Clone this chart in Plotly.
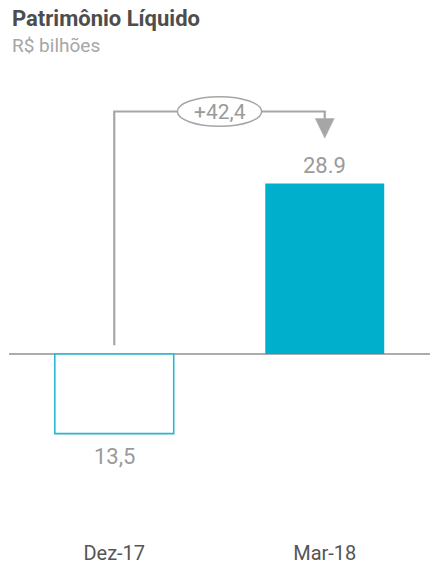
import plotly.graph_objects as go

categories = ["Dez-17", "Mar-18"]
values = [-13.5, 28.9]
value_labels = ["13,5", "28.9"]
delta_label = "+42,4"
title = "Patrimônio Líquido"
subtitle = "R$ bilhões"

teal = "#00AFCC"
teal_line = "#2BB5CE"
gray = "#A6A6A6"
font = "Roboto"

fig = go.Figure()
fig.add_trace(go.Bar(
    x=[0, 1], y=values, width=0.565,
    marker=dict(color=["white", teal],
                line=dict(color=[teal_line, teal], width=[1.6, 0])),
    hoverinfo="skip",
))

top = max(values)
bracket_y = top + 12.2
arrow_base = top + 11.0
arrow_tip = top + 7.7
start_y = 1.5

# bracket line
fig.add_shape(type="path",
              path=f"M 0,{start_y} L 0,{bracket_y} L 1,{bracket_y} L 1,{arrow_base}",
              xref="x", yref="y", line=dict(color=gray, width=2.2))
# arrow head
hw = 0.045
fig.add_shape(type="path",
              path=f"M {1-hw},{arrow_base} L {1+hw},{arrow_base} L 1,{arrow_tip} Z",
              xref="x", yref="y", fillcolor=gray, line=dict(color=gray, width=0.5))
# ellipse
fig.add_shape(type="circle", xref="x", yref="y",
              x0=0.5 - 0.2, x1=0.5 + 0.2,
              y0=bracket_y - 2.5, y1=bracket_y + 2.5,
              fillcolor="white", line=dict(color=gray, width=1.5))
fig.add_annotation(x=0.5, y=bracket_y, text=delta_label, showarrow=False,
                   xref="x", yref="y", font=dict(family=font, size=21, color="#9A9A9A"))

# value labels
for i, (v, t) in enumerate(zip(values, value_labels)):
    fig.add_annotation(x=i, y=v + (3.1 if v > 0 else -3.8), text=t, showarrow=False,
                       xref="x", yref="y", yanchor="middle",
                       font=dict(family=font, size=22, color="#9A9A9A"))

# title
fig.add_annotation(x=0, y=1, xref="paper", yref="paper", xanchor="left", yanchor="middle",
                   xshift=1, yshift=42, text=f"<b>{title}</b>", showarrow=False,
                   font=dict(family=font, size=22, color="#4D4D4D"))
fig.add_annotation(x=0, y=1, xref="paper", yref="paper", xanchor="left", yanchor="middle",
                   xshift=1, yshift=15, text=subtitle, showarrow=False,
                   font=dict(family=font, size=19, color="#A6A6A6"))

fig.update_layout(
    width=430, height=564,
    margin=dict(l=9, r=0, t=60, b=34),
    plot_bgcolor="white", paper_bgcolor="white",
    showlegend=False,
    xaxis=dict(range=[-0.5, 1.5], tickvals=[0, 1], ticktext=categories,
               showgrid=False, zeroline=False, showline=False, ticks="",
               tickfont=dict(family=font, size=20, color="#555555"),
               ticklabelstandoff=9, fixedrange=True),
    yaxis=dict(range=[-29.83, 49.83], showgrid=False, showticklabels=False,
               zeroline=True, zerolinecolor="#ACACAC", zerolinewidth=2,
               showline=False, ticks="", fixedrange=True),
)

fig.write_html("out.html")
